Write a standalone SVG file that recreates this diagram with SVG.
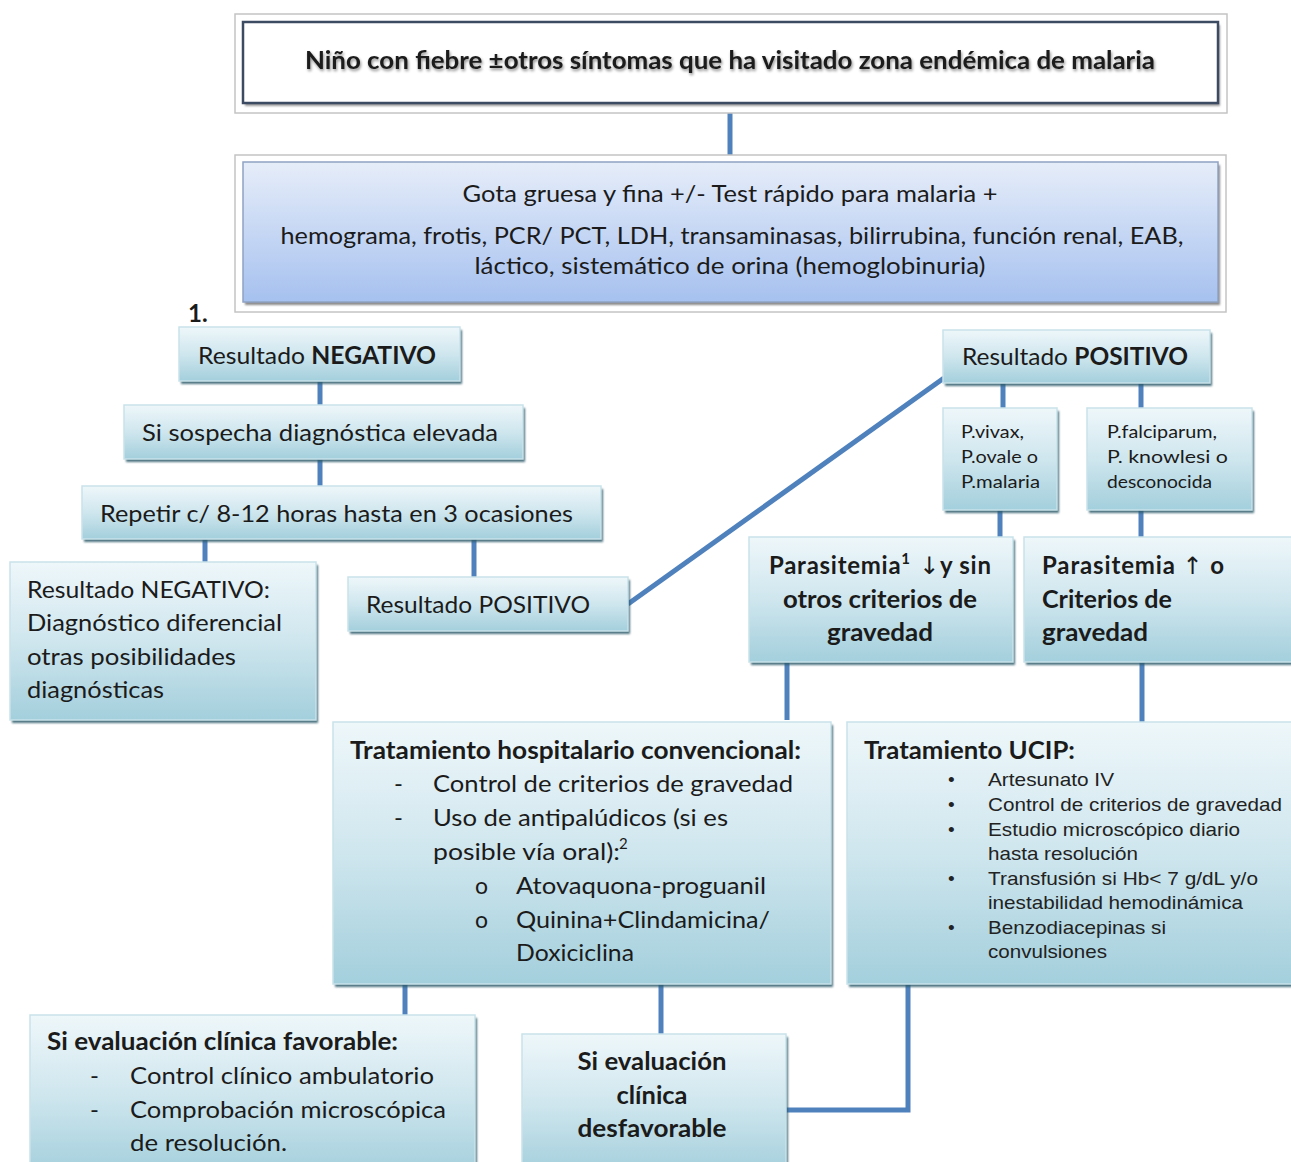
<svg xmlns="http://www.w3.org/2000/svg" width="1291" height="1162" viewBox="0 0 1291 1162">
  <defs>
    <linearGradient id="gBox" x1="0" y1="0" x2="0" y2="1">
      <stop offset="0" stop-color="#eef7fa"/>
      <stop offset="0.5" stop-color="#cfe6ee"/>
      <stop offset="1" stop-color="#a3cfdc"/>
    </linearGradient>
    <linearGradient id="gBlue" x1="0" y1="0" x2="0" y2="1">
      <stop offset="0" stop-color="#e6edf9"/>
      <stop offset="1" stop-color="#a6c1ef"/>
    </linearGradient>
    <filter id="soft" x="-5%" y="-5%" width="110%" height="120%">
      <feGaussianBlur stdDeviation="1.2"/>
    </filter>
    <filter id="txtShadow" x="-2%" y="-20%" width="104%" height="160%">
      <feGaussianBlur in="SourceAlpha" stdDeviation="1.5"/>
      <feOffset dx="1" dy="2" result="sh"/>
      <feComponentTransfer><feFuncA type="linear" slope="0.45"/></feComponentTransfer>
      <feMerge><feMergeNode/><feMergeNode in="SourceGraphic"/></feMerge>
    </filter>
  </defs>
  <style>
    .t { font-family: Lato, "Liberation Sans", "DejaVu Sans", sans-serif; font-size: 24px; fill: #1b1b1b; }
    .b { font-weight: bold; }
    .sm { font-size: 17px; }
    .sup { font-size: 15px; }
    .ob { font-size: 23px; }
    .ar { font-family: "Liberation Sans", Arial, sans-serif; font-size: 19px; fill: #222; }
    .mid { text-anchor: middle; }
    .box { fill: url(#gBox); stroke: #c9e2ea; stroke-width: 1.5; }
    .shade { fill: #2f5b6b; opacity: 0.85; filter: url(#soft); }
    .frame { fill: #ffffff; stroke: #c4c4c4; stroke-width: 1.5; }
    .link { fill: none; stroke: #4f81bd; stroke-width: 5; }
  </style>

  <rect x="0" y="0" width="1291" height="1162" fill="#ffffff"/>

  <!-- connectors -->
  <g id="connectors">
    <line class="link" x1="730" y1="113" x2="730" y2="156"/>
    <line class="link" x1="320" y1="381" x2="320" y2="406"/>
    <line class="link" x1="320" y1="459" x2="320" y2="487"/>
    <line class="link" x1="205" y1="539" x2="205" y2="563"/>
    <line class="link" x1="474" y1="539" x2="474" y2="578"/>
    <line class="link" x1="628" y1="604" x2="944" y2="378"/>
    <line class="link" x1="1003" y1="383" x2="1003" y2="409"/>
    <line class="link" x1="1141" y1="383" x2="1141" y2="409"/>
    <line class="link" x1="1000" y1="510" x2="1000" y2="538"/>
    <line class="link" x1="1141" y1="510" x2="1141" y2="538"/>
    <line class="link" x1="787" y1="662" x2="787" y2="720"/>
    <line class="link" x1="1142" y1="662" x2="1142" y2="722"/>
    <line class="link" x1="405" y1="984" x2="405" y2="1016"/>
    <line class="link" x1="661" y1="984" x2="661" y2="1035"/>
    <polyline class="link" points="908,984 908,1110 786,1110"/>
  </g>

  <!-- starting situation -->
  <g id="n-inicio">
    <rect class="frame" x="235" y="14" width="992" height="99"/>
    <rect x="245" y="25" width="975" height="81" fill="#555" opacity="0.6" filter="url(#soft)"/>
    <rect x="243" y="22" width="975" height="81" fill="#ffffff" stroke="#3c4a62" stroke-width="2.5"/>
    <text class="t b mid" x="730" y="69" textLength="850" lengthAdjust="spacingAndGlyphs" filter="url(#txtShadow)">Niño con fiebre ±otros síntomas que ha visitado zona endémica de malaria</text>
  </g>

  <!-- lab tests -->
  <g id="n-pruebas">
    <rect class="frame" x="235" y="155" width="991" height="157"/>
    <rect x="245" y="165" width="975" height="140" fill="#3a3a3a" opacity="0.6" filter="url(#soft)"/>
    <rect x="243" y="162" width="975" height="140" fill="url(#gBlue)" stroke="#8fa3c2" stroke-width="1.5"/>
    <text class="t mid" x="730" y="202" textLength="535" lengthAdjust="spacingAndGlyphs">Gota gruesa y fina +/- Test rápido para malaria +</text>
    <text class="t mid" x="732" y="244" textLength="903" lengthAdjust="spacingAndGlyphs">hemograma, frotis, PCR/ PCT, LDH, transaminasas, bilirrubina, función renal, EAB,</text>
    <text class="t mid" x="730" y="274" textLength="511" lengthAdjust="spacingAndGlyphs">láctico, sistemático de orina (hemoglobinuria)</text>
  </g>

  <text class="t b" x="188" y="322">1.</text>

  <g id="n-negativo">
    <rect class="shade" x="181" y="330" width="281" height="54"/>
    <rect class="box" x="179" y="327" width="281" height="54"/>
    <text class="t" x="198" y="364" textLength="238" lengthAdjust="spacingAndGlyphs">Resultado <tspan class="b">NEGATIVO</tspan></text>
  </g>

  <g id="n-sospecha">
    <rect class="shade" x="126" y="408" width="399" height="54"/>
    <rect class="box" x="124" y="405" width="399" height="54"/>
    <text class="t" x="142" y="441" textLength="356" lengthAdjust="spacingAndGlyphs">Si sospecha diagnóstica elevada</text>
  </g>

  <g id="n-repetir">
    <rect class="shade" x="84" y="489" width="519" height="53"/>
    <rect class="box" x="82" y="486" width="519" height="53"/>
    <text class="t" x="100" y="522" textLength="473" lengthAdjust="spacingAndGlyphs">Repetir c/ 8-12 horas hasta en 3 ocasiones</text>
  </g>

  <g id="n-diferencial">
    <rect class="shade" x="12" y="565" width="306" height="158"/>
    <rect class="box" x="10" y="562" width="306" height="158"/>
    <text class="t" x="27" y="598" textLength="243" lengthAdjust="spacingAndGlyphs">Resultado NEGATIVO:</text>
    <text class="t" x="27" y="631" textLength="255" lengthAdjust="spacingAndGlyphs">Diagnóstico diferencial</text>
    <text class="t" x="27" y="665" textLength="209" lengthAdjust="spacingAndGlyphs">otras posibilidades</text>
    <text class="t" x="27" y="698" textLength="137" lengthAdjust="spacingAndGlyphs">diagnósticas</text>
  </g>

  <g id="n-positivo-repetido">
    <rect class="shade" x="350" y="580" width="280" height="54"/>
    <rect class="box" x="348" y="577" width="280" height="54"/>
    <text class="t" x="366" y="613" textLength="224" lengthAdjust="spacingAndGlyphs">Resultado POSITIVO</text>
  </g>

  <g id="n-positivo">
    <rect class="shade" x="945" y="333" width="267" height="53"/>
    <rect class="box" x="943" y="330" width="267" height="53"/>
    <text class="t" x="962" y="365" textLength="226" lengthAdjust="spacingAndGlyphs">Resultado <tspan class="b">POSITIVO</tspan></text>
  </g>

  <g id="n-vivax">
    <rect class="shade" x="945" y="411" width="114" height="102"/>
    <rect class="box" x="943" y="408" width="114" height="102"/>
    <text class="t sm" x="961" y="438" textLength="63" lengthAdjust="spacingAndGlyphs">P.vivax,</text>
    <text class="t sm" x="961" y="463" textLength="77" lengthAdjust="spacingAndGlyphs">P.ovale o</text>
    <text class="t sm" x="961" y="488" textLength="79" lengthAdjust="spacingAndGlyphs">P.malaria</text>
  </g>

  <g id="n-falciparum">
    <rect class="shade" x="1089" y="411" width="165" height="102"/>
    <rect class="box" x="1087" y="408" width="165" height="102"/>
    <text class="t sm" x="1107" y="438" textLength="110" lengthAdjust="spacingAndGlyphs">P.falciparum,</text>
    <text class="t sm" x="1107" y="463" textLength="121" lengthAdjust="spacingAndGlyphs">P. knowlesi o</text>
    <text class="t sm" x="1107" y="488" textLength="105" lengthAdjust="spacingAndGlyphs">desconocida</text>
  </g>

  <g id="n-parasitemia-baja">
    <rect class="shade" x="751" y="540" width="264" height="125"/>
    <rect class="box" x="749" y="537" width="264" height="125"/>
    <text class="t b" x="769" y="574" textLength="222" lengthAdjust="spacing">Parasitemia<tspan class="sup" dy="-10">1</tspan><tspan dy="10" font-family="DejaVu Sans" font-weight="normal"> ↓</tspan>y sin</text>
    <text class="t b mid" x="880" y="608" textLength="194" lengthAdjust="spacingAndGlyphs">otros criterios de</text>
    <text class="t b mid" x="880" y="641" textLength="106" lengthAdjust="spacingAndGlyphs">gravedad</text>
  </g>

  <g id="n-parasitemia-alta">
    <rect class="shade" x="1026" y="540" width="280" height="125"/>
    <rect class="box" x="1024" y="537" width="280" height="125"/>
    <text class="t b" x="1042" y="574" textLength="182" lengthAdjust="spacing">Parasitemia <tspan font-family="DejaVu Sans" font-weight="normal">↑</tspan> o</text>
    <text class="t b" x="1042" y="608" textLength="130" lengthAdjust="spacingAndGlyphs">Criterios de</text>
    <text class="t b" x="1042" y="641" textLength="106" lengthAdjust="spacingAndGlyphs">gravedad</text>
  </g>

  <g id="n-hospitalario">
    <rect class="shade" x="335" y="725" width="498" height="262"/>
    <rect class="box" x="333" y="722" width="498" height="262"/>
    <text class="t b" x="350" y="759" textLength="451" lengthAdjust="spacingAndGlyphs">Tratamiento hospitalario convencional:</text>
    <text class="t" x="394" y="792">-</text>
    <text class="t" x="433" y="792" textLength="360" lengthAdjust="spacingAndGlyphs">Control de criterios de gravedad</text>
    <text class="t" x="394" y="826">-</text>
    <text class="t" x="433" y="826" textLength="295" lengthAdjust="spacingAndGlyphs">Uso de antipalúdicos (si es</text>
    <text class="t" x="433" y="860" textLength="187" lengthAdjust="spacingAndGlyphs">posible vía oral):</text>
    <text class="t sup" x="619" y="849">2</text>
    <text class="t ob" x="475" y="894">o</text>
    <text class="t" x="516" y="894" textLength="250" lengthAdjust="spacingAndGlyphs">Atovaquona-proguanil</text>
    <text class="t ob" x="475" y="928">o</text>
    <text class="t" x="516" y="928" textLength="254" lengthAdjust="spacingAndGlyphs">Quinina+Clindamicina/</text>
    <text class="t" x="516" y="961" textLength="118" lengthAdjust="spacingAndGlyphs">Doxiciclina</text>
  </g>

  <g id="n-ucip">
    <rect class="shade" x="849" y="725" width="460" height="262"/>
    <rect class="box" x="847" y="722" width="460" height="262"/>
    <text class="t b" x="864" y="759" textLength="211" lengthAdjust="spacingAndGlyphs">Tratamiento UCIP:</text>
    <text class="ar" x="948" y="786">•</text>
    <text class="ar" x="988" y="786" textLength="126" lengthAdjust="spacingAndGlyphs">Artesunato IV</text>
    <text class="ar" x="948" y="811">•</text>
    <text class="ar" x="988" y="811" textLength="294" lengthAdjust="spacingAndGlyphs">Control de criterios de gravedad</text>
    <text class="ar" x="948" y="836">•</text>
    <text class="ar" x="988" y="836" textLength="252" lengthAdjust="spacingAndGlyphs">Estudio microscópico diario</text>
    <text class="ar" x="988" y="860" textLength="150" lengthAdjust="spacingAndGlyphs">hasta resolución</text>
    <text class="ar" x="948" y="885">•</text>
    <text class="ar" x="988" y="885" textLength="270" lengthAdjust="spacingAndGlyphs">Transfusión si Hb&lt; 7 g/dL y/o</text>
    <text class="ar" x="988" y="909" textLength="255" lengthAdjust="spacingAndGlyphs">inestabilidad hemodinámica</text>
    <text class="ar" x="948" y="934">•</text>
    <text class="ar" x="988" y="934" textLength="178" lengthAdjust="spacingAndGlyphs">Benzodiacepinas si</text>
    <text class="ar" x="988" y="958" textLength="119" lengthAdjust="spacingAndGlyphs">convulsiones</text>
  </g>

  <g id="n-favorable">
    <rect class="shade" x="32" y="1018" width="445" height="160"/>
    <rect class="box" x="30" y="1015" width="445" height="160"/>
    <text class="t b" x="47" y="1050" textLength="351" lengthAdjust="spacingAndGlyphs">Si evaluación clínica favorable:</text>
    <text class="t" x="90" y="1084">-</text>
    <text class="t" x="130" y="1084" textLength="304" lengthAdjust="spacingAndGlyphs">Control clínico ambulatorio</text>
    <text class="t" x="90" y="1118">-</text>
    <text class="t" x="130" y="1118" textLength="316" lengthAdjust="spacingAndGlyphs">Comprobación microscópica</text>
    <text class="t" x="130" y="1151" textLength="157" lengthAdjust="spacingAndGlyphs">de resolución.</text>
  </g>

  <g id="n-desfavorable">
    <rect class="shade" x="524" y="1037" width="264" height="140"/>
    <rect class="box" x="522" y="1034" width="264" height="140"/>
    <text class="t b mid" x="652" y="1070" textLength="149" lengthAdjust="spacingAndGlyphs">Si evaluación</text>
    <text class="t b mid" x="652" y="1104" textLength="71" lengthAdjust="spacingAndGlyphs">clínica</text>
    <text class="t b mid" x="652" y="1137" textLength="149" lengthAdjust="spacingAndGlyphs">desfavorable</text>
  </g>
</svg>
